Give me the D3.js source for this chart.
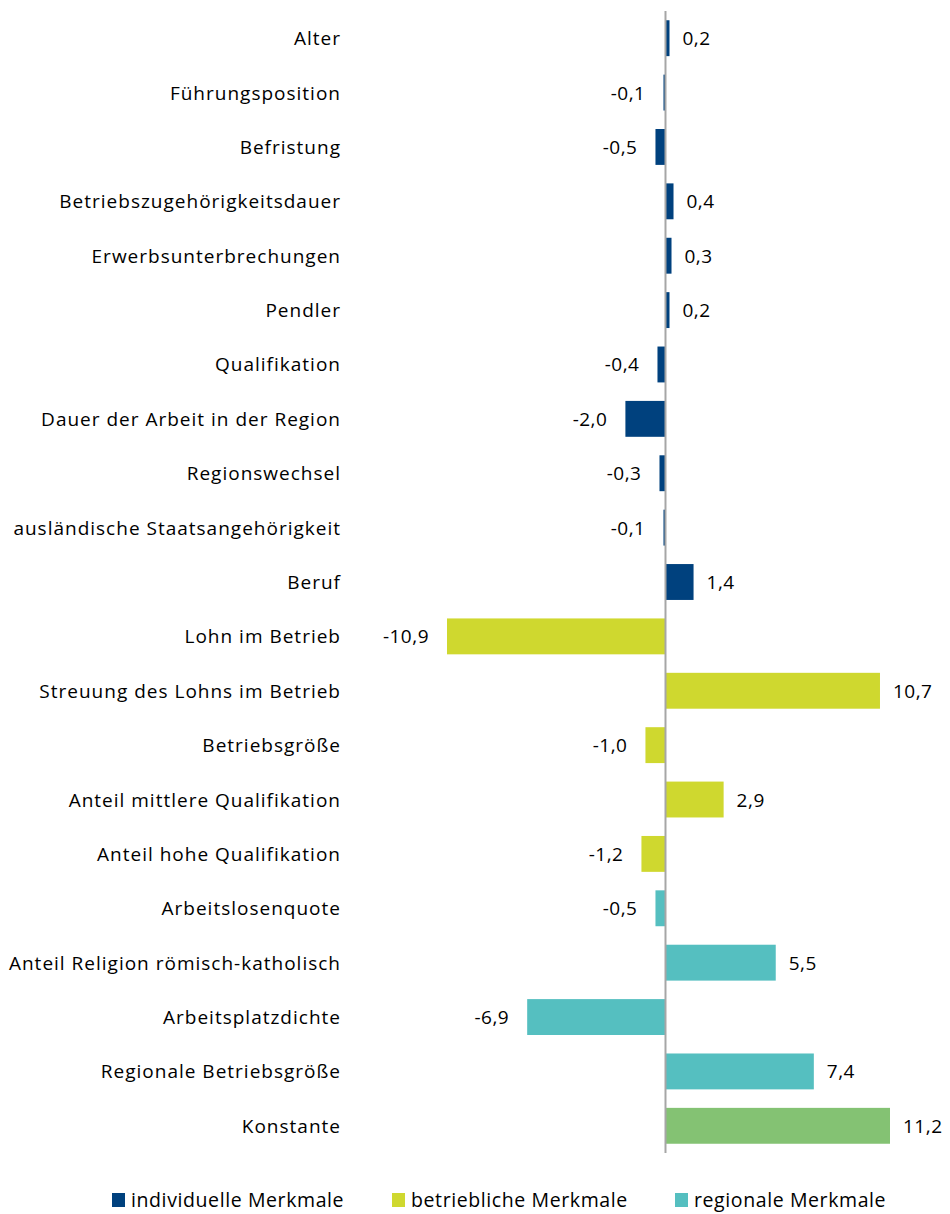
<!DOCTYPE html>
<html><head><meta charset="utf-8">
<script src="https://cdn.jsdelivr.net/npm/d3@7"></script>
<style>body{margin:0;background:#fff;} text{font-family:"Open Sans",Lato,sans-serif;fill:#000;}</style>
</head><body>
<svg id="c" width="950" height="1214"></svg>
<script>
const categories = ["Alter","Führungsposition","Befristung","Betriebszugehörigkeitsdauer","Erwerbsunterbrechungen","Pendler","Qualifikation","Dauer der Arbeit in der Region","Regionswechsel","ausländische Staatsangehörigkeit","Beruf","Lohn im Betrieb","Streuung des Lohns im Betrieb","Betriebsgröße","Anteil mittlere Qualifikation","Anteil hohe Qualifikation","Arbeitslosenquote","Anteil Religion römisch-katholisch","Arbeitsplatzdichte","Regionale Betriebsgröße","Konstante"];
const values = [0.2,-0.1,-0.5,0.4,0.3,0.2,-0.4,-2.0,-0.3,-0.1,1.4,-10.9,10.7,-1.0,2.9,-1.2,-0.5,5.5,-6.9,7.4,11.2];
const groups = ["ind","ind","ind","ind","ind","ind","ind","ind","ind","ind","ind","bet","bet","bet","bet","bet","reg","reg","reg","reg","kon"];
const groupKeys = ["ind","bet","reg","kon"];
const groupColors = ["#00417E","#CFD82F","#55BFC0","#84C273"];
const legendLabels = ["individuelle Merkmale","betriebliche Merkmale","regionale Merkmale"];

const svg = d3.select("#c");
const x = d3.scaleLinear().domain([-10.9, 11.2]).range([447, 890]);
const y = d3.scaleBand().domain(categories).range([11, 1153]).paddingInner(0.34).paddingOuter(0.17);
const color = d3.scaleOrdinal().domain(groupKeys).range(groupColors);
const fmt = v => d3.format(".1f")(v).replace(".", ",").replace("−","-");

const data = categories.map((c,i)=>({c, v:values[i], g:groups[i]}));

svg.selectAll("rect.bar").data(data).join("rect")
  .attr("class","bar")
  .attr("x", d=>x(Math.min(0,d.v)))
  .attr("width", d=>Math.abs(x(d.v)-x(0)))
  .attr("y", d=>y(d.c))
  .attr("height", y.bandwidth())
  .attr("fill", d=>color(d.g));

svg.append("line").attr("x1",x(0)).attr("x2",x(0)).attr("y1",11).attr("y2",1153)
  .attr("stroke","#A6A6A6").attr("stroke-width",2);

svg.selectAll("text.cat").data(data).join("text")
  .attr("class","cat")
  .attr("x",341).attr("y",d=>y(d.c)+y.bandwidth()/2)
  .attr("text-anchor","end").attr("dominant-baseline","central")
  .attr("font-size",19).attr("letter-spacing",1).text(d=>d.c);

svg.selectAll("text.val").data(data).join("text")
  .attr("class","val")
  .attr("x",d=>d.v>=0 ? x(d.v)+13 : x(d.v)-18)
  .attr("y",d=>y(d.c)+y.bandwidth()/2)
  .attr("text-anchor",d=>d.v>=0?"start":"end").attr("dominant-baseline","central")
  .attr("font-size",19).attr("letter-spacing",0.5).text(d=>fmt(d.v));

const lx = [112,392,675];
const lg = svg.selectAll("g.leg").data(legendLabels).join("g").attr("class","leg")
  .attr("transform",(d,i)=>`translate(${lx[i]},1199)`);
lg.append("rect").attr("x",0).attr("y",-6).attr("width",13).attr("height",14).attr("fill",(d,i)=>groupColors[i]);
lg.append("text").attr("x",19).attr("y",0).attr("dominant-baseline","central").attr("font-size",19.5).attr("letter-spacing",0.6).text(d=>d);
</script>
</body></html>
